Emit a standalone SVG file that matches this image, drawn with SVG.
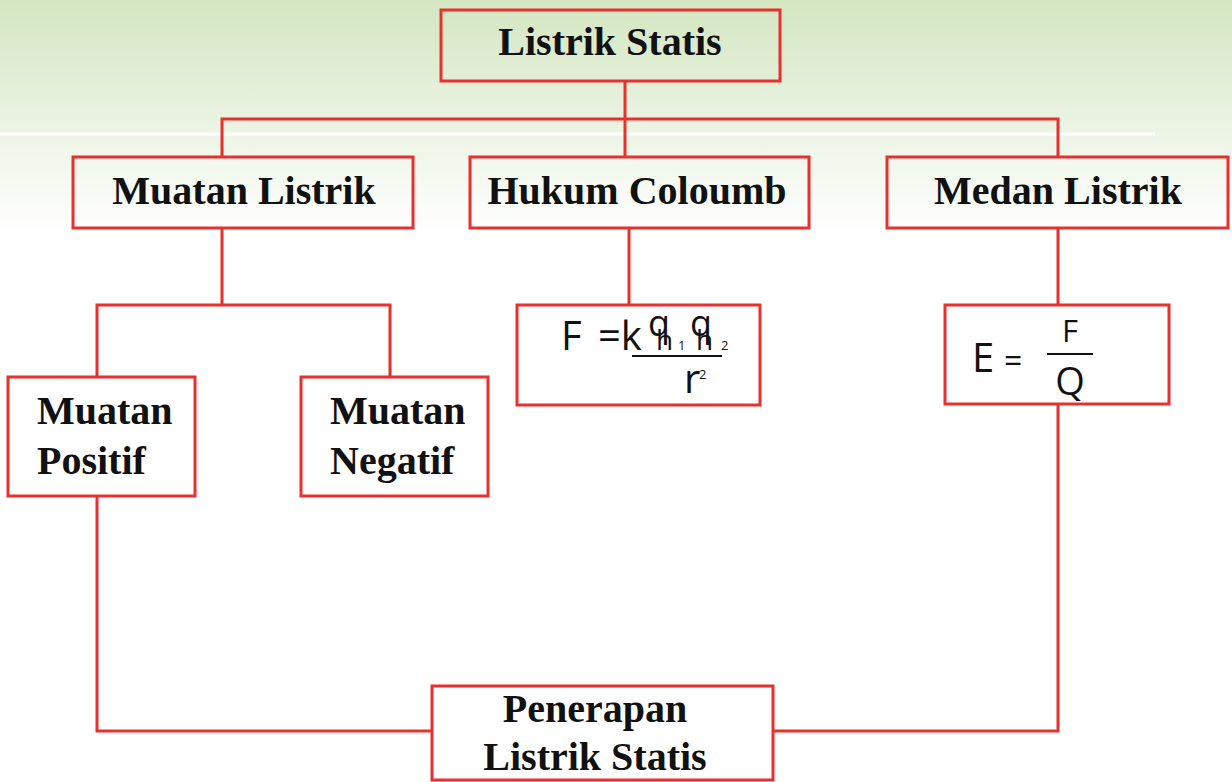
<svg xmlns="http://www.w3.org/2000/svg" width="1232" height="782" viewBox="0 0 1232 782">
<defs>
<linearGradient id="bg" x1="0" y1="0" x2="0" y2="1">
<stop offset="0" stop-color="#d3e6c1"/>
<stop offset="1" stop-color="#ffffff"/>
</linearGradient>
<style>
.box{fill:none;stroke:#e8312f;stroke-width:3}
.con{fill:none;stroke:#e8312f;stroke-width:3}
.t{font-family:"Liberation Serif","Times New Roman",serif;font-weight:bold;font-size:40px;fill:#111}
.m{font-family:"Open Sans","Liberation Sans",sans-serif;fill:#111}
</style>
</defs>
<rect x="0" y="0" width="1232" height="782" fill="#ffffff"/>
<rect x="0" y="0" width="1232" height="232" fill="url(#bg)"/>
<line x1="0" y1="134" x2="1155" y2="134" stroke="#ffffff" stroke-width="3"/>
<g id="connectors">
<path class="con" d="M625 81V119M222 157V119H1058V157M625 119V157"/>
<path class="con" d="M222 228V305M97 377V305H390V377"/>
<path class="con" d="M629 228V305"/>
<path class="con" d="M1058 228V305"/>
<path class="con" d="M1058 404V731H773"/>
<path class="con" d="M97 496V731H432"/>
</g>
<g id="listrik-statis">
<rect class="box" x="441" y="10" width="339" height="71"/>
<text class="t" x="610" y="55" text-anchor="middle">Listrik Statis</text>
</g>
<g id="muatan-listrik">
<rect class="box" x="73" y="157" width="340" height="71"/>
<text class="t" x="244" y="204" text-anchor="middle">Muatan Listrik</text>
</g>
<g id="hukum-coloumb">
<rect class="box" x="470" y="157" width="339" height="71"/>
<text class="t" x="637" y="204" text-anchor="middle">Hukum Coloumb</text>
</g>
<g id="medan-listrik">
<rect class="box" x="887" y="157" width="341" height="71"/>
<text class="t" x="1058" y="204" text-anchor="middle">Medan Listrik</text>
</g>
<g id="muatan-positif">
<rect class="box" x="8" y="377" width="187" height="119"/>
<text class="t" x="37" y="424">Muatan</text>
<text class="t" x="37" y="474">Positif</text>
</g>
<g id="muatan-negatif">
<rect class="box" x="301" y="377" width="187" height="119"/>
<text class="t" x="330" y="424">Muatan</text>
<text class="t" x="330" y="474">Negatif</text>
</g>
<g id="rumus-coulomb">
<rect class="box" x="517" y="305" width="243" height="100"/>
<text class="m" x="561" y="350" font-size="40">F</text>
<text class="m" x="598" y="350" font-size="40">=k</text>
<text class="m" font-size="36"><tspan x="648" y="336">q</tspan><tspan x="656" y="350" font-size="28">h</tspan><tspan x="678" y="350" font-size="13">1</tspan><tspan x="690" y="336">q</tspan><tspan x="696" y="350" font-size="28">h</tspan><tspan x="721" y="350" font-size="13">2</tspan></text>
<line x1="632" y1="356" x2="722" y2="356" stroke="#111" stroke-width="2"/>
<text class="m" font-size="40"><tspan x="684" y="393">r</tspan><tspan x="699" y="379" font-size="13">2</tspan></text>
</g>
<g id="rumus-medan">
<rect class="box" x="945" y="305" width="224" height="99"/>
<text class="m" x="972" y="372" font-size="40">E</text>
<text class="m" x="1004" y="372" font-size="32">=</text>
<text class="m" x="1070" y="342" font-size="31" text-anchor="middle">F</text>
<line x1="1047" y1="354" x2="1093" y2="354" stroke="#111" stroke-width="2"/>
<text class="m" x="1070" y="395" font-size="38" text-anchor="middle">Q</text>
</g>
<g id="penerapan">
<rect class="box" x="432" y="686" width="341" height="94"/>
<text class="t" x="595" y="722" text-anchor="middle">Penerapan</text>
<text class="t" x="595" y="770" text-anchor="middle">Listrik Statis</text>
</g>
</svg>
